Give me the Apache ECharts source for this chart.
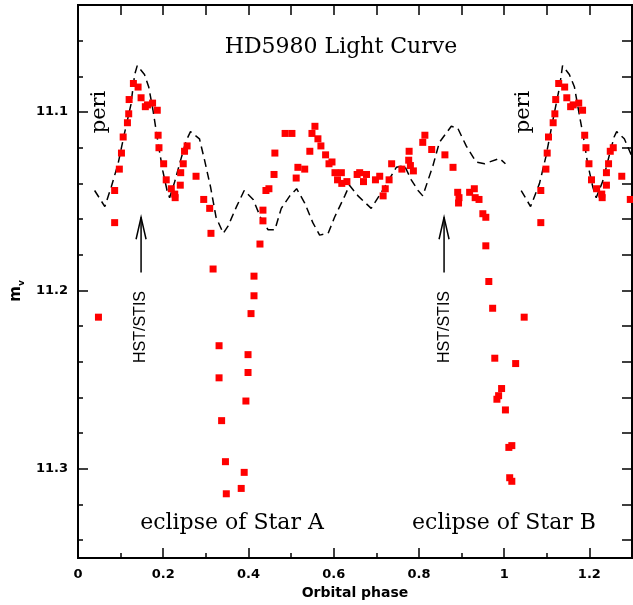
<!DOCTYPE html>
<html><head><meta charset="utf-8">
<script src="https://cdn.jsdelivr.net/npm/echarts@6/dist/echarts.min.js"></script>
<style>html,body{margin:0;padding:0;background:#fff}#c{width:633px;height:605px}</style>
</head><body><div id="c"></div>
<script>
// ---- data ----
const obsPhase = [0.048,0.086,0.086,0.097,0.102,0.106,0.116,0.119,0.120,0.130,0.141,0.148,0.158,0.163,0.175,0.186,0.188,0.190,0.201,0.207,0.219,0.227,0.228,0.240,0.241,0.247,0.250,0.256,0.277,0.295,0.309,0.312,0.317,0.331,0.331,0.337,0.346,0.348,0.383,0.390,0.394,0.399,0.399,0.406,0.413,0.413,0.427,0.434,0.434,0.441,0.448,0.460,0.462,0.486,0.502,0.512,0.516,0.532,0.544,0.549,0.556,0.563,0.570,0.581,0.589,0.596,0.603,0.609,0.618,0.619,0.631,0.655,0.661,0.670,0.677,0.698,0.708,0.716,0.721,0.730,0.736,0.760,0.776,0.777,0.780,0.787,0.809,0.814,0.830,0.861,0.880,0.891,0.894,0.893,0.919,0.930,0.932,0.941,0.950,0.957,0.957,0.964,0.973,0.978,0.983,0.987,0.994,1.003,1.011,1.018,1.013,1.018,1.027,1.047,1.086,1.086,1.098,1.101,1.104,1.115,1.119,1.121,1.128,1.142,1.147,1.156,1.162,1.175,1.184,1.189,1.192,1.199,1.205,1.217,1.229,1.230,1.240,1.240,1.245,1.249,1.256,1.276,1.296];
const obsMag = [11.215,11.162,11.144,11.132,11.123,11.114,11.106,11.101,11.093,11.084,11.086,11.092,11.097,11.096,11.095,11.099,11.113,11.120,11.129,11.138,11.143,11.146,11.148,11.141,11.134,11.129,11.122,11.119,11.136,11.149,11.154,11.168,11.188,11.231,11.249,11.273,11.296,11.314,11.311,11.302,11.262,11.246,11.236,11.213,11.203,11.192,11.174,11.161,11.155,11.144,11.143,11.135,11.123,11.112,11.112,11.137,11.131,11.132,11.122,11.112,11.108,11.115,11.119,11.124,11.129,11.128,11.134,11.138,11.134,11.140,11.139,11.135,11.134,11.139,11.135,11.138,11.136,11.147,11.143,11.138,11.129,11.132,11.127,11.122,11.130,11.133,11.117,11.113,11.121,11.124,11.131,11.145,11.148,11.151,11.145,11.143,11.148,11.149,11.157,11.159,11.175,11.195,11.210,11.238,11.261,11.259,11.255,11.267,11.288,11.287,11.305,11.307,11.241,11.215,11.162,11.144,11.132,11.123,11.114,11.106,11.101,11.093,11.084,11.086,11.092,11.097,11.096,11.095,11.099,11.113,11.120,11.129,11.138,11.143,11.146,11.148,11.141,11.134,11.129,11.122,11.120,11.136,11.149];

const modelPhaseA = [0.039,0.063,0.078,0.094,0.109,0.124,0.133,0.139,0.156,0.166,0.176,0.187,0.199,0.209,0.215,0.227,0.242,0.254,0.264,0.285,0.297,0.311,0.324,0.341,0.352,0.372,0.390,0.411,0.430,0.446,0.462,0.477,0.497,0.513,0.532,0.551,0.567,0.587,0.602,0.626,0.637,0.657,0.688,0.712,0.747,0.766,0.782,0.798,0.809,0.833,0.848,0.876,0.891,0.911,0.934,0.954,0.989,1.003];
const modelMagA = [11.144,11.153,11.142,11.129,11.112,11.096,11.079,11.074,11.079,11.086,11.099,11.116,11.133,11.144,11.148,11.139,11.126,11.116,11.111,11.115,11.127,11.142,11.159,11.168,11.164,11.153,11.144,11.149,11.160,11.166,11.166,11.154,11.147,11.143,11.151,11.162,11.169,11.168,11.159,11.147,11.141,11.147,11.154,11.145,11.131,11.130,11.138,11.144,11.147,11.130,11.117,11.108,11.109,11.119,11.128,11.129,11.126,11.129];
const modelPhaseB = [1.040,1.062,1.083,1.098,1.114,1.130,1.137,1.153,1.165,1.176,1.186,1.196,1.208,1.216,1.231,1.247,1.258,1.264,1.282,1.300];
const modelMagB = [11.144,11.153,11.140,11.125,11.105,11.086,11.074,11.079,11.086,11.101,11.114,11.129,11.142,11.148,11.139,11.124,11.114,11.111,11.115,11.125];

const xMajorTicks = [0,0.2,0.4,0.6,0.8,1,1.2];
const xTickLabels = ['0','0.2','0.4','0.6','0.8','1','1.2'];
const xMinorTicks = [0.1,0.3,0.5,0.7,0.9,1.1];
const xTopTicks = [0.1,0.2,0.3,0.4,0.5,0.6,0.7,0.8,0.9,1.0,1.1,1.2];
const yMajorTicks = [11.1,11.2,11.3];
const yTickLabels = ['11.1','11.2','11.3'];
const yMinorTicks = [11.06,11.08,11.10,11.12,11.14,11.16,11.18,11.20,11.22,11.24,11.26,11.28,11.30,11.32,11.34];

// ---- chart ----
const XMIN = 0, XMAX = 1.3, YMIN = 11.04, YMAX = 11.35;
const chart = echarts.init(document.getElementById('c'), null, {renderer: 'canvas'});
const pairs = (a, b) => a.map((v, i) => [v, b[i]]);
const labelFont = {color: '#000', fontFamily: 'DejaVu Sans', fontWeight: 'bold', fontSize: 13};

function xAx(extra) {
  return Object.assign({type: 'value', min: XMIN, max: XMAX, splitLine: {show: false},
    axisLine: {show: false, onZero: false}, axisLabel: {show: false}}, extra);
}
function yAx(extra) {
  return Object.assign({type: 'value', min: YMIN, max: YMAX, inverse: true, splitLine: {show: false},
    axisLine: {show: false, onZero: false}, axisLabel: {show: false}}, extra);
}

chart.setOption({
  animation: false,
  backgroundColor: '#fff',
  grid: {left: 78, right: 1, top: 5, bottom: 46, show: true, borderColor: '#000', borderWidth: 2, backgroundColor: 'transparent'},
  xAxis: [
    xAx({position: 'bottom', name: 'Orbital phase', nameLocation: 'middle', nameGap: 28,
      nameTextStyle: {color: '#000', fontFamily: 'DejaVu Sans', fontWeight: 'bold', fontSize: 14},
      axisTick: {show: true, inside: true, length: 10, customValues: xMajorTicks, lineStyle: {color: '#000', width: 1.5}},
      axisLabel: Object.assign({show: true, margin: 10, customValues: xMajorTicks,
        formatter: v => { const i = xMajorTicks.findIndex(t => Math.abs(t - v) < 1e-6); return i >= 0 ? xTickLabels[i] : ''; }}, labelFont)}),
    xAx({position: 'bottom', axisTick: {show: true, inside: true, length: 5, customValues: xMinorTicks, lineStyle: {color: '#000', width: 1.5}}}),
    xAx({position: 'top', axisTick: {show: true, inside: true, length: 10, customValues: xTopTicks, lineStyle: {color: '#000', width: 1.5}}})
  ],
  yAxis: [
    yAx({position: 'left',
      axisTick: {show: true, inside: true, length: 10, customValues: yMajorTicks, lineStyle: {color: '#000', width: 1.5}},
      axisLabel: Object.assign({show: true, margin: 10, customValues: yMajorTicks,
        formatter: v => { const i = yMajorTicks.findIndex(t => Math.abs(t - v) < 1e-6); return i >= 0 ? yTickLabels[i] : ''; }}, labelFont)}),
    yAx({position: 'left', axisTick: {show: true, inside: true, length: 5, customValues: yMinorTicks, lineStyle: {color: '#000', width: 1.5}}}),
    yAx({position: 'right', axisTick: {show: true, inside: true, length: 10, customValues: yMinorTicks, lineStyle: {color: '#000', width: 1.5}}})
  ],
  series: [
    {type: 'line', xAxisIndex: 0, yAxisIndex: 0, data: pairs(modelPhaseA, modelMagA), showSymbol: false, symbol: 'none', z: 2,
      lineStyle: {color: '#000', width: 1.5, type: [8, 5]}},
    {type: 'line', xAxisIndex: 0, yAxisIndex: 0, data: pairs(modelPhaseB, modelMagB), showSymbol: false, symbol: 'none', z: 2,
      lineStyle: {color: '#000', width: 1.5, type: [8, 5]}},
    {type: 'scatter', xAxisIndex: 0, yAxisIndex: 0, data: pairs(obsPhase, obsMag), symbol: 'rect', symbolSize: 7, z: 3,
      itemStyle: {color: '#ff0000', opacity: 1}}
  ]
});

// ---- annotations ----
const P = (x, y) => chart.convertToPixel({xAxisIndex: 0, yAxisIndex: 0}, [x, y]);
function arrow(xv) {
  const tip = P(xv, 11.159), tail = P(xv, 11.190);
  return {type: 'group', children: [
    {type: 'line', shape: {x1: tail[0], y1: tail[1], x2: tip[0], y2: tip[1]}, style: {stroke: '#000', lineWidth: 1.5}},
    {type: 'polyline', shape: {points: [[tip[0] - 5, tip[1] + 22], [tip[0], tip[1]], [tip[0] + 5, tip[1] + 22]]}, style: {stroke: '#000', lineWidth: 1.5, fill: null}}
  ]};
}
function txt(x, y, text, font, rot) {
  return {type: 'text', x: x, y: y, rotation: rot || 0,
    style: {text: text, font: font, fill: '#000', align: 'center', verticalAlign: 'middle'}};
}
const serif = 'DejaVu Serif';
chart.setOption({graphic: [
  txt(341, 47, 'HD5980 Light Curve', '22px "' + serif + '"'),
  txt(100, 112, 'peri', '21px "' + serif + '"', Math.PI / 2),
  txt(524, 112, 'peri', '21px "' + serif + '"', Math.PI / 2),
  txt(232, 523, 'eclipse of Star A', '22px "' + serif + '"'),
  txt(504, 523, 'eclipse of Star B', '22px "' + serif + '"'),
  txt(141, 327, 'HST/STIS', '16px "Liberation Sans"', Math.PI / 2),
  txt(445, 327, 'HST/STIS', '16px "Liberation Sans"', Math.PI / 2),
  arrow(0.148), arrow(0.859),
  {type: 'text', x: 16, y: 291, rotation: Math.PI / 2,
    style: {text: '{m|m}{v|v}', align: 'center', verticalAlign: 'middle',
      rich: {m: {font: 'bold 15px "DejaVu Sans"', fill: '#000', verticalAlign: 'bottom'},
             v: {font: 'bold 9px "DejaVu Sans"', fill: '#000', verticalAlign: 'bottom', padding: [0,0,-3,0]}}}}
]});
</script>
</body></html>
